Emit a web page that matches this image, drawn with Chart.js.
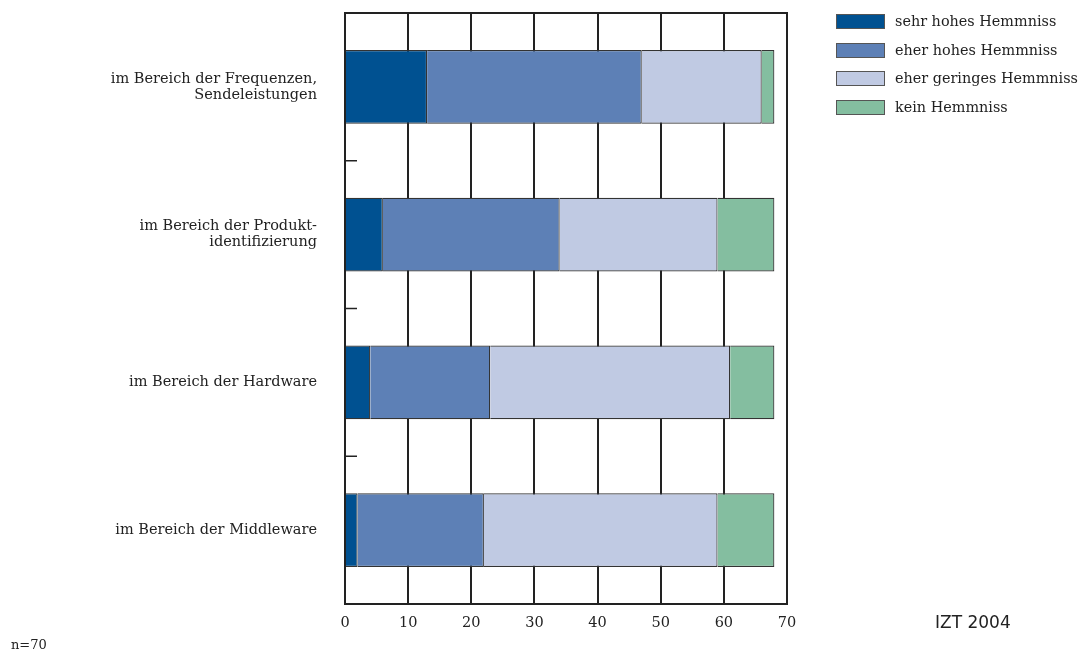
<!DOCTYPE html>
<html>
<head>
<meta charset="utf-8">
<script src="https://cdn.jsdelivr.net/npm/chart.js@4"></script>
<style>
    body { margin: 0; background: #fff; }
    #wrap { position: relative; width: 1091px; height: 653px; }
    .legend { position: absolute; left: 836px; top: 14px; font-family: "DejaVu Serif", serif; font-size: 14.4px; color: #222; }
    .legend-item { height: 28.7px; display: flex; align-items: flex-start; }
    .legend-box { width: 49px; height: 15px; border: 1px solid #555; margin-right: 10px; box-sizing: border-box; }
    .legend-item span { line-height: 15px; }
    .note { position: absolute; color: #222; white-space: nowrap; }
</style>
</head>
<body>
<div id="wrap">
    <canvas id="chart" width="1091" height="653"></canvas>
    <div class="legend" id="legend"></div>
    <div class="note" style="left:935px; top:612px; font-family:'DejaVu Sans', sans-serif; font-size:17px;">IZT 2004</div>
    <div class="note" style="left:11px; top:637px; font-family:'DejaVu Serif', serif; font-size:13px;">n=70</div>
</div>
<script>
// Kategorien (y-Achse)
const categories = [
    ['im Bereich der Frequenzen,', 'Sendeleistungen'],
    ['im Bereich der Produkt-', 'identifizierung'],
    'im Bereich der Hardware',
    'im Bereich der Middleware'
];

// Antworten je Kategorie
const sehrHohes = [13, 6, 4, 2];
const eherHohes = [34, 28, 19, 20];
const eherGeringes = [19, 25, 38, 37];
const keinHemmnis = [2, 9, 7, 9];

const seriesNames = ['sehr hohes Hemmniss', 'eher hohes Hemmniss', 'eher geringes Hemmniss', 'kein Hemmniss'];
const seriesColors = ['#005191', '#5d80b6', '#c0cae3', '#84bea0'];
const xTicks = [0, 10, 20, 30, 40, 50, 60, 70];

const seriesValues = [sehrHohes, eherHohes, eherGeringes, keinHemmnis];

// Rahmen + kleine Trennstriche zwischen den Kategorien
const framePlugin = {
    id: 'frame',
    afterDatasetsDraw(chart) {
        const { ctx, chartArea, scales } = chart;
        ctx.save();
        ctx.strokeStyle = '#222';
        ctx.lineWidth = 2;
        ctx.strokeRect(chartArea.left, chartArea.top, chartArea.right - chartArea.left, chartArea.bottom - chartArea.top);
        ctx.lineWidth = 1.5;
        for (let i = 0; i < categories.length - 1; i++) {
            const y = (scales.y.getPixelForValue(i) + scales.y.getPixelForValue(i + 1)) / 2;
            ctx.beginPath();
            ctx.moveTo(chartArea.left, y);
            ctx.lineTo(chartArea.left + 12, y);
            ctx.stroke();
        }
        ctx.restore();
    }
};

const chart = new Chart(document.getElementById('chart'), {
    type: 'bar',
    data: {
        labels: categories,
        datasets: seriesNames.map((name, i) => ({
            label: name,
            data: seriesValues[i],
            backgroundColor: seriesColors[i],
            borderColor: '#333',
            borderWidth: 1.2,
            barPercentage: 0.5,
            categoryPercentage: 1
        }))
    },
    options: {
        indexAxis: 'y',
        responsive: false,
        animation: false,
        layout: { padding: { top: 13, right: 304, left: 0, bottom: 0 } },
        plugins: {
            legend: { display: false },
            tooltip: { enabled: false }
        },
        scales: {
            x: {
                stacked: true,
                min: 0,
                max: 70,
                afterBuildTicks(scale) {
                    scale.ticks = xTicks.map(v => ({ value: v }));
                },
                afterFit(scale) { scale.height = 49; },
                grid: { color: '#222', lineWidth: 2, drawTicks: false },
                border: { color: '#222', width: 2 },
                ticks: {
                    padding: 11,
                    color: '#222',
                    font: { family: 'DejaVu Serif', size: 14.5 }
                }
            },
            y: {
                stacked: true,
                afterFit(scale) {
                    scale.width = 345;
                    scale.paddingTop = 0;
                    scale.paddingBottom = 0;
                },
                grid: { display: false },
                border: { color: '#222', width: 2 },
                ticks: {
                    padding: 20,
                    color: '#222',
                    font: { family: 'DejaVu Serif', size: 14.5, lineHeight: 1.1 }
                }
            }
        }
    },
    plugins: [framePlugin]
});

const legendEl = document.getElementById('legend');
seriesNames.forEach((name, i) => {
    const item = document.createElement('div');
    item.className = 'legend-item';
    item.innerHTML = '<div class="legend-box" style="background:' + seriesColors[i] + '"></div><span>' + name + '</span>';
    legendEl.appendChild(item);
});
</script>
</body>
</html>
